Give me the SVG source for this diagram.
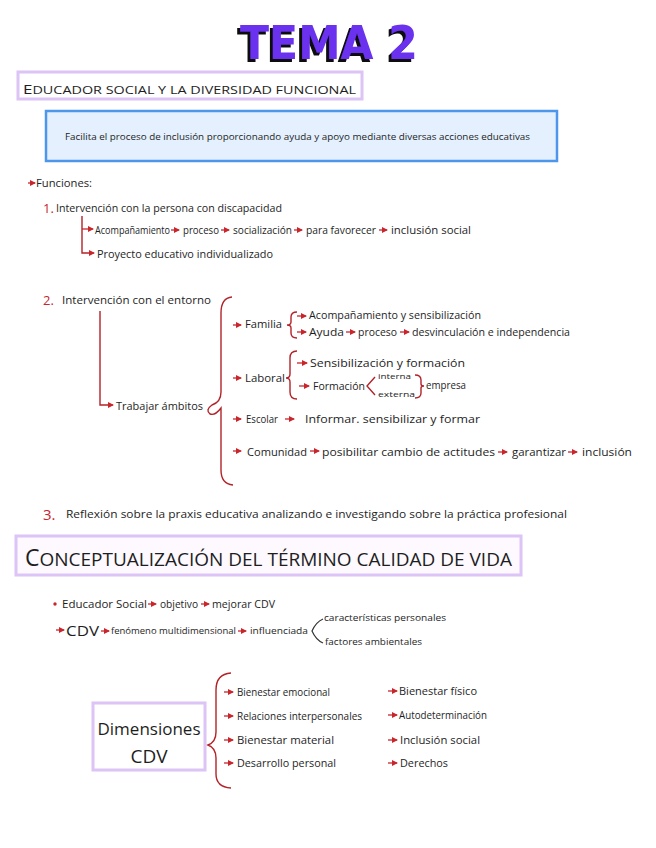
<svg xmlns="http://www.w3.org/2000/svg" width="656" height="848" viewBox="0 0 656 848">
<defs>
<marker id="ah" markerUnits="userSpaceOnUse" markerWidth="6" markerHeight="6" refX="5" refY="3" orient="auto"><path d="M0,0 L6,3 L0,6 z" fill="#c8262c"/></marker>
<filter id="shadow" x="-10%" y="-20%" width="120%" height="140%">
<feFlood flood-color="#111111" result="f"/>
<feComposite in="f" in2="SourceAlpha" operator="in" result="s"/>
<feOffset in="s" dx="-3" dy="3" result="o"/>
<feMerge><feMergeNode in="o"/><feMergeNode in="SourceGraphic"/></feMerge>
</filter>
<style>
text{font-family:"Open Sans","Liberation Sans",sans-serif;fill:#1e1e1e;}
.t{font-size:10px}
.s{font-size:9px}
.m{font-size:11px}
.red{fill:#c8262c}
.a{stroke:#c8262c;stroke-width:1.3;fill:none;marker-end:url(#ah)}
.br{stroke:#b3232a;stroke-width:1.4;fill:none}
.lav{fill:#ffffff;stroke:#dcc4f6;stroke-width:3}
</style>
</defs>
<rect width="656" height="848" fill="#ffffff"/>

<g id="title">
<text x="240" y="59" font-size="46" font-weight="bold" textLength="178" lengthAdjust="spacingAndGlyphs" filter="url(#shadow)" style="fill:#6a33ee;font-family:'DejaVu Sans',sans-serif">TEMA 2</text>
</g>

<g id="heading1">
<rect class="lav" x="18" y="72" width="344" height="27"/>
<text x="23" y="94" font-size="11" textLength="333" lengthAdjust="spacingAndGlyphs"><tspan font-size="13">E</tspan>DUCADOR SOCIAL Y LA DIVERSIDAD FUNCIONAL</text>
</g>

<g id="definition">
<rect x="46" y="111" width="511" height="50" fill="#e4f0fd" stroke="#4c97ec" stroke-width="2.5"/>
<text class="s" x="65" y="140" textLength="465" lengthAdjust="spacingAndGlyphs">Facilita el proceso de inclusión proporcionando ayuda y apoyo mediante diversas acciones educativas</text>
</g>

<g id="connectors">
<line class="a" x1="28" y1="183" x2="35" y2="183"/>
<path class="br" d="M82 216 V253 H91"/>
<line class="a" x1="82" y1="229" x2="93" y2="229"/>
<line class="a" x1="90" y1="253" x2="94" y2="253"/>
<line class="a" x1="171" y1="230" x2="179" y2="230"/>
<line class="a" x1="221" y1="230" x2="229" y2="230"/>
<line class="a" x1="294" y1="230" x2="302" y2="230"/>
<line class="a" x1="379" y1="230" x2="387" y2="230"/>
<path class="br" d="M100 311 V405 H109"/>
<line class="a" x1="108" y1="405" x2="113" y2="405"/>
<path class="br" d="M232 297 Q221 298 221 313 L221 392 Q221 402 212 405 Q205 410 210 414 Q215 416 221 408 L221 470 Q221 484 233 485"/>
<line class="a" x1="233" y1="325" x2="241" y2="325"/>
<line class="a" x1="233" y1="378" x2="241" y2="378"/>
<line class="a" x1="233" y1="419" x2="241" y2="419"/>
<line class="a" x1="233" y1="451" x2="241" y2="451"/>
<path class="br" d="M297 312 Q291 312 291 317 L291 322 Q291 325 287 325 Q291 325 291 328 L291 333 Q291 338 297 338"/>
<line class="a" x1="297" y1="316" x2="306" y2="316"/>
<line class="a" x1="297" y1="332" x2="306" y2="332"/>
<line class="a" x1="346" y1="332" x2="355" y2="332"/>
<line class="a" x1="400" y1="332" x2="409" y2="332"/>
<path class="br" d="M297 351 Q290 351 290 358 L290 374 Q290 378 286 378 Q290 378 290 382 L290 392 Q290 399 297 399"/>
<line class="a" x1="297" y1="363" x2="307" y2="363"/>
<line class="a" x1="299" y1="386" x2="309" y2="386"/>
<path class="br" d="M375 377 L367 386 L375 395"/>
<path class="br" d="M415 375 Q421 375 421 380 L421 384 Q421 386 424 386 Q421 386 421 388 L421 393 Q421 398 415 398"/>
<line class="a" x1="285" y1="419" x2="294" y2="419"/>
<line class="a" x1="310" y1="451" x2="319" y2="451"/>
<line class="a" x1="498" y1="452" x2="507" y2="452"/>
<line class="a" x1="568" y1="452" x2="577" y2="452"/>
<circle cx="55" cy="604" r="1.7" fill="#c8262c"/>
<line class="a" x1="148" y1="604" x2="156" y2="604"/>
<line class="a" x1="201" y1="604" x2="209" y2="604"/>
<line class="a" x1="56" y1="630" x2="64" y2="630"/>
<line class="a" x1="101" y1="631" x2="109" y2="631"/>
<line class="a" x1="238" y1="631" x2="246" y2="631"/>
<path d="M323 619 Q316 622 312 631 Q316 640 323 643" fill="none" stroke="#333" stroke-width="1.2"/>
<path class="br" d="M231 673 Q216 674 216 690 L216 732 Q216 742 208 745 Q216 748 216 758 L216 774 Q216 787 231 788"/>
<line class="a" x1="224" y1="692" x2="233" y2="692"/>
<line class="a" x1="224" y1="716" x2="233" y2="716"/>
<line class="a" x1="224" y1="740" x2="233" y2="740"/>
<line class="a" x1="224" y1="763" x2="233" y2="763"/>
<line class="a" x1="388" y1="691" x2="397" y2="691"/>
<line class="a" x1="388" y1="715" x2="397" y2="715"/>
<line class="a" x1="388" y1="740" x2="397" y2="740"/>
<line class="a" x1="388" y1="763" x2="397" y2="763"/>
</g>

<g id="funciones">
<text class="m" x="36" y="187" textLength="56" lengthAdjust="spacingAndGlyphs">Funciones:</text>
</g>

<g id="f1">
<text class="red" x="43" y="213" font-size="13">1.</text>
<text class="m" x="56" y="212" textLength="226" lengthAdjust="spacingAndGlyphs">Intervención con la persona con discapacidad</text>
<text class="t" x="95" y="234" textLength="75" lengthAdjust="spacingAndGlyphs">Acompañamiento</text>
<text class="t" x="183" y="234" textLength="36" lengthAdjust="spacingAndGlyphs">proceso</text>
<text class="t" x="233" y="234" textLength="59" lengthAdjust="spacingAndGlyphs">socialización</text>
<text class="t" x="306" y="234" textLength="70" lengthAdjust="spacingAndGlyphs">para favorecer</text>
<text class="t" x="391" y="234" textLength="80" lengthAdjust="spacingAndGlyphs">inclusión social</text>
<text class="m" x="97" y="258" textLength="176" lengthAdjust="spacingAndGlyphs">Proyecto educativo individualizado</text>
</g>

<g id="f2">
<text class="red" x="43" y="305" font-size="13">2.</text>
<text class="t" x="62" y="304" textLength="149" lengthAdjust="spacingAndGlyphs">Intervención con el entorno</text>
<text class="t" x="116" y="410" textLength="87" lengthAdjust="spacingAndGlyphs">Trabajar ámbitos</text>
</g>

<g id="familia">
<text class="t" x="245" y="328" textLength="37" lengthAdjust="spacingAndGlyphs">Familia</text>
<text class="t" x="309" y="319" textLength="172" lengthAdjust="spacingAndGlyphs">Acompañamiento y sensibilización</text>
<text class="t" x="309" y="336" textLength="35" lengthAdjust="spacingAndGlyphs">Ayuda</text>
<text class="t" x="358" y="336" textLength="39" lengthAdjust="spacingAndGlyphs">proceso</text>
<text class="t" x="412" y="336" textLength="158" lengthAdjust="spacingAndGlyphs">desvinculación e independencia</text>
</g>

<g id="laboral">
<text class="m" x="245" y="382" textLength="40" lengthAdjust="spacingAndGlyphs">Laboral</text>
<text class="m" x="310" y="367" textLength="155" lengthAdjust="spacingAndGlyphs">Sensibilización y formación</text>
<text class="t" x="313" y="390" textLength="52" lengthAdjust="spacingAndGlyphs">Formación</text>
<text x="378" y="379" font-size="8" textLength="33" lengthAdjust="spacingAndGlyphs">interna</text>
<text x="378" y="397" font-size="8" textLength="37" lengthAdjust="spacingAndGlyphs">externa</text>
<text class="t" x="426" y="389" textLength="40" lengthAdjust="spacingAndGlyphs">empresa</text>
</g>

<g id="escolar">
<text class="t" x="246" y="423" textLength="32" lengthAdjust="spacingAndGlyphs">Escolar</text>
<text class="m" x="305" y="423" textLength="175" lengthAdjust="spacingAndGlyphs">Informar. sensibilizar y formar</text>
</g>

<g id="comunidad">
<text class="m" x="247" y="456" textLength="60" lengthAdjust="spacingAndGlyphs">Comunidad</text>
<text class="t" x="322" y="456" textLength="173" lengthAdjust="spacingAndGlyphs">posibilitar cambio de actitudes</text>
<text class="t" x="512" y="456" textLength="54" lengthAdjust="spacingAndGlyphs">garantizar</text>
<text class="t" x="582" y="456" textLength="50" lengthAdjust="spacingAndGlyphs">inclusión</text>
</g>

<g id="f3">
<text class="red" x="43" y="520" font-size="15">3.</text>
<text class="t" x="66" y="518" textLength="501" lengthAdjust="spacingAndGlyphs">Reflexión sobre la praxis educativa analizando e investigando sobre la práctica profesional</text>
</g>

<g id="heading2">
<rect x="16" y="536" width="505" height="39" fill="#fdf9ff" stroke="#dcc4f6" stroke-width="3"/>
<text x="25" y="566" font-size="19" textLength="487" lengthAdjust="spacingAndGlyphs"><tspan font-size="23">C</tspan>ONCEPTUALIZACIÓN DEL TÉRMINO  CALIDAD DE VIDA</text>
</g>

<g id="cdv">
<text class="t" x="62" y="608" textLength="85" lengthAdjust="spacingAndGlyphs">Educador Social</text>
<text class="t" x="160" y="608" textLength="38" lengthAdjust="spacingAndGlyphs">objetivo</text>
<text class="t" x="212" y="608" textLength="63" lengthAdjust="spacingAndGlyphs">mejorar CDV</text>
<text x="66" y="636" font-size="14" textLength="33" lengthAdjust="spacingAndGlyphs">CDV</text>
<text class="s" x="111" y="634" textLength="125" lengthAdjust="spacingAndGlyphs">fenómeno multidimensional</text>
<text class="s" x="250" y="634" textLength="58" lengthAdjust="spacingAndGlyphs">influenciada</text>
<text class="s" x="324" y="621" textLength="122" lengthAdjust="spacingAndGlyphs">características personales</text>
<text class="s" x="325" y="645" textLength="97" lengthAdjust="spacingAndGlyphs">factores ambientales</text>
</g>

<g id="dimensiones">
<rect class="lav" x="93" y="703" width="112" height="67"/>
<text x="149" y="735" font-size="17" text-anchor="middle">Dimensiones</text>
<text x="149" y="763" font-size="19" text-anchor="middle">CDV</text>
</g>

<g id="dims">
<text class="t" x="237" y="696" textLength="93" lengthAdjust="spacingAndGlyphs">Bienestar emocional</text>
<text class="t" x="237" y="720" textLength="125" lengthAdjust="spacingAndGlyphs">Relaciones interpersonales</text>
<text class="t" x="237" y="744" textLength="97" lengthAdjust="spacingAndGlyphs">Bienestar material</text>
<text class="t" x="237" y="767" textLength="99" lengthAdjust="spacingAndGlyphs">Desarrollo personal</text>
<text class="t" x="399" y="695" textLength="78" lengthAdjust="spacingAndGlyphs">Bienestar físico</text>
<text class="t" x="399" y="719" textLength="88" lengthAdjust="spacingAndGlyphs">Autodeterminación</text>
<text class="t" x="400" y="744" textLength="80" lengthAdjust="spacingAndGlyphs">Inclusión social</text>
<text class="t" x="400" y="767" textLength="48" lengthAdjust="spacingAndGlyphs">Derechos</text>
</g>
</svg>
